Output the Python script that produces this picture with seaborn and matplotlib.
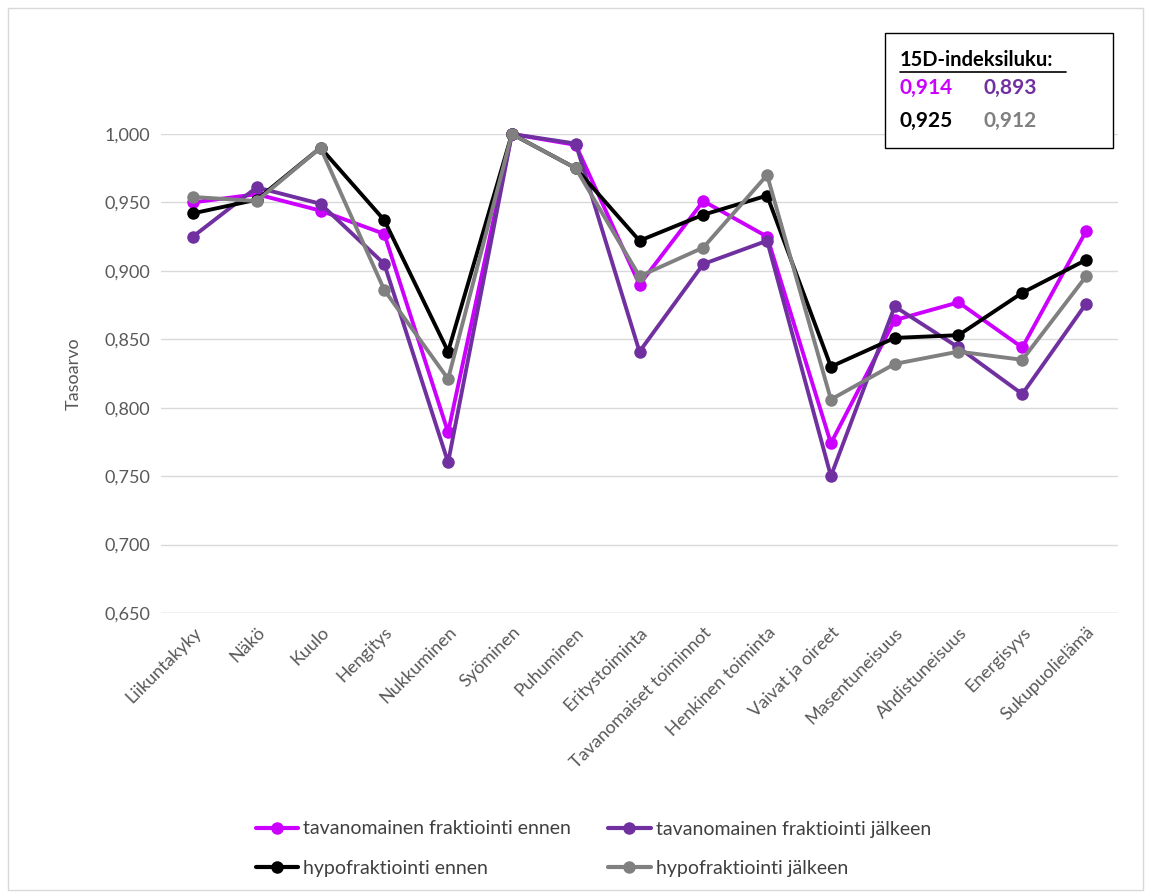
import pandas as pd
import seaborn as sns
import matplotlib.pyplot as plt
from matplotlib.lines import Line2D
from matplotlib.patches import Rectangle

categories = ['Liikuntakyky', 'Näkö', 'Kuulo', 'Hengitys', 'Nukkuminen', 'Syöminen',
              'Puhuminen', 'Eritystoiminta', 'Tavanomaiset toiminnot', 'Henkinen toiminta',
              'Vaivat ja oireet', 'Masentuneisuus', 'Ahdistuneisuus', 'Energisyys',
              'Sukupuolielämä']

tav_ennen = [0.950, 0.956, 0.944, 0.927, 0.782, 1.000, 0.992, 0.890, 0.951, 0.925,
             0.774, 0.864, 0.877, 0.844, 0.929]
tav_jalkeen = [0.925, 0.961, 0.949, 0.905, 0.760, 1.000, 0.993, 0.841, 0.905, 0.922,
               0.750, 0.874, 0.844, 0.810, 0.876]
hypo_ennen = [0.942, 0.952, 0.990, 0.937, 0.841, 1.000, 0.975, 0.922, 0.941, 0.955,
              0.830, 0.851, 0.853, 0.884, 0.908]
hypo_jalkeen = [0.954, 0.951, 0.990, 0.886, 0.821, 1.000, 0.975, 0.896, 0.917, 0.970,
                0.806, 0.832, 0.841, 0.835, 0.896]

series_names = ['tavanomainen fraktiointi ennen', 'tavanomainen fraktiointi jälkeen',
                'hypofraktiointi ennen', 'hypofraktiointi jälkeen']
colors = ['#CC00FF', '#7030A0', '#000000', '#808080']
index_values = ['0,914', '0,893', '0,925', '0,912']

frames = []
for name, vals in zip(series_names, [tav_ennen, tav_jalkeen, hypo_ennen, hypo_jalkeen]):
    frames.append(pd.DataFrame({'kategoria': categories, 'arvo': vals, 'sarja': name}))
df = pd.concat(frames, ignore_index=True)

sns.set_theme(style='white')
plt.rcParams['font.family'] = ['Lato', 'DejaVu Sans']

fig = plt.figure(figsize=(11.49, 8.94), dpi=100)
ax = fig.add_axes([161 / 1149, 1 - 613 / 894, (1118 - 161) / 1149, (613 - 134) / 894])

sns.lineplot(data=df, x='kategoria', y='arvo', hue='sarja', palette=colors,
             hue_order=series_names, sort=False, marker='o', markersize=9,
             markeredgewidth=0, linewidth=2.8, legend=False, clip_on=False, ax=ax)

ax.set_ylim(0.65, 1.0)
ax.set_xlim(-0.5, len(categories) - 0.5)
ax.set_yticks([0.65, 0.70, 0.75, 0.80, 0.85, 0.90, 0.95, 1.00])
ax.set_yticklabels(['0,650', '0,700', '0,750', '0,800', '0,850', '0,900', '0,950', '1,000'])
ax.yaxis.grid(True, color='#D9D9D9', linewidth=1)
ax.xaxis.grid(False)
for s in ax.spines.values():
    s.set_visible(False)
ax.axhline(0.65, color='#D9D9D9', linewidth=1, zorder=0)
ax.set_xticks(range(len(categories)))
ax.set_xticklabels(categories, rotation=45, ha='right', rotation_mode='anchor')
ax.tick_params(axis='both', labelsize=13, colors='#595959', length=0, pad=8)
ax.set_xlabel('')
ax.set_ylabel('Tasoarvo', fontsize=13, color='#595959', labelpad=16)

# legend
handles = [Line2D([0], [0], color=c, linewidth=3, marker='o', markersize=9,
                  markeredgewidth=0) for c in colors]
order = [0, 2, 1, 3]
fig.legend([handles[i] for i in order], [series_names[i] for i in order],
           loc='upper left', bbox_to_anchor=(238 / 1149, 1 - 803 / 894), ncol=2,
           frameon=False, fontsize=14, labelcolor='#404040', handlelength=2.2,
           handletextpad=0.25, columnspacing=1.9, labelspacing=1.15)

# index box
fig.patches.append(Rectangle((885 / 1149, 1 - 148 / 894), 228 / 1149, 115 / 894,
                             transform=fig.transFigure, facecolor='white',
                             edgecolor='black', linewidth=1, zorder=5))
fig.text(900 / 1149, 1 - 60 / 894, '15D-indeksiluku:', fontsize=14.5, fontweight='bold',
         color='black', va='center', ha='left', zorder=6)
fig.add_artist(Line2D([900 / 1149, 1066 / 1149], [1 - 72 / 894, 1 - 72 / 894],
                      color='black', linewidth=1.2, zorder=6))
pos = [(900, 88), (983, 88), (900, 121), (983, 121)]
for (px, py), txt, c in zip(pos, index_values, colors):
    fig.text(px / 1149, 1 - py / 894, txt, fontsize=15, fontweight='bold', color=c,
             va='center', ha='left', zorder=6)

# outer border
fig.patches.append(Rectangle((8 / 1149, 4 / 894), 1135 / 1149, 882 / 894,
                             transform=fig.transFigure, facecolor='none',
                             edgecolor='#D9D9D9', linewidth=1))

fig.savefig('out.png', dpi=100)
